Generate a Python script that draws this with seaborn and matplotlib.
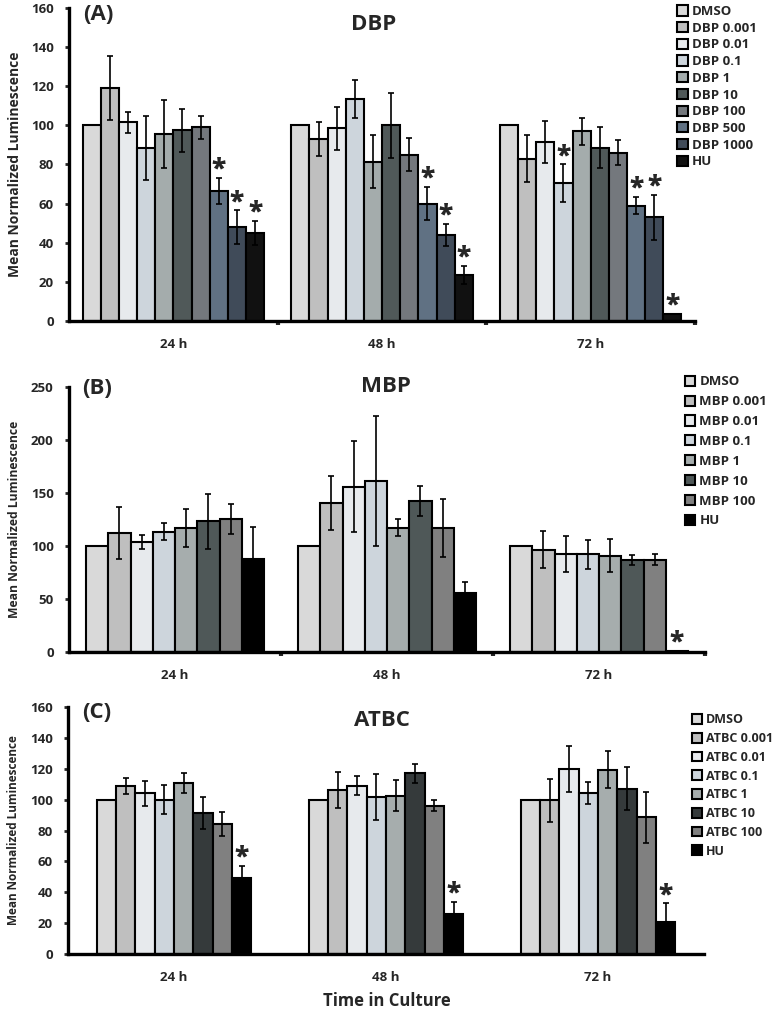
import pandas as pd
import matplotlib
matplotlib.use('Agg')
import matplotlib.pyplot as plt
import seaborn as sns

# ------------------- data -------------------
times = ['24 h', '48 h', '72 h']

# (A) DBP
dbp_labels = ['DMSO', 'DBP 0.001', 'DBP 0.01', 'DBP 0.1', 'DBP 1', 'DBP 10',
              'DBP 100', 'DBP 500', 'DBP 1000', 'HU']
dbp_colors = ['#d9d9d9', '#bfbfbf', '#e6eaee', '#cbd5de', '#a3adad', '#4e5a5b',
              '#72787f', '#5a7189', '#3c4b5d', '#111111']
dbp_24 = [100, 119, 101.5, 88.5, 95.5, 97.5, 99, 66.5, 48, 45]
dbp_48 = [100, 93, 98.5, 113.5, 81.5, 100, 85, 60, 44, 23.5]
dbp_72 = [100, 83, 91.5, 70.5, 97, 88.5, 86, 59, 53, 3.5]
dbp_err_24 = [0, 16.5, 5.5, 16.5, 17.5, 11, 6, 6.5, 8.5, 6]
dbp_err_48 = [0, 8.5, 11, 9.5, 13.5, 16.5, 8.5, 8.5, 5.5, 4.5]
dbp_err_72 = [0, 12, 10.5, 9.5, 7, 10.5, 6.5, 4.5, 11.5, 0]
dbp_sig_24 = ['DBP 500', 'DBP 1000', 'HU']
dbp_sig_48 = ['DBP 500', 'DBP 1000', 'HU']
dbp_sig_72 = ['DBP 0.1', 'DBP 500', 'DBP 1000', 'HU']

# (B) MBP
mbp_labels = ['DMSO', 'MBP 0.001', 'MBP 0.01', 'MBP 0.1', 'MBP 1', 'MBP 10',
              'MBP 100', 'HU']
mbp_colors = ['#d9d9d9', '#bfbfbf', '#e6eaee', '#cbd5de', '#a5aeae', '#4d5a5a',
              '#808080', '#000000']
mbp_24 = [100, 112.5, 103.5, 113.5, 117, 123.5, 125.5, 88]
mbp_48 = [100, 140.5, 156, 161.5, 117, 142.5, 117, 55.5]
mbp_72 = [100, 96.5, 92.5, 92, 91, 87, 87, 1]
mbp_err_24 = [0, 24.5, 6.5, 8, 18, 26, 14.5, 30]
mbp_err_48 = [0, 25.5, 43, 61.5, 8, 14.5, 27.5, 10.5]
mbp_err_72 = [0, 17.5, 17, 14, 16, 4.5, 5, 0]
mbp_sig_24 = []
mbp_sig_48 = []
mbp_sig_72 = ['HU']

# (C) ATBC
atbc_labels = ['DMSO', 'ATBC 0.001', 'ATBC 0.01', 'ATBC 0.1', 'ATBC 1',
               'ATBC 10', 'ATBC 100', 'HU']
atbc_colors = ['#d9d9d9', '#bfbfbf', '#e6eaee', '#cbd5de', '#a5aeae', '#343a3c',
               '#808080', '#000000']
atbc_24 = [100, 109, 104, 100, 111, 91.5, 84, 49.5]
atbc_48 = [100, 106, 109, 101.5, 102.5, 117, 96, 26]
atbc_72 = [100, 99.5, 120, 104.5, 119.5, 107, 88.5, 20.5]
atbc_err_24 = [0, 5.3, 8.3, 9.2, 6.5, 10.5, 7.8, 7.3]
atbc_err_48 = [0, 11.6, 6, 15, 10, 6.4, 3.6, 8]
atbc_err_72 = [0, 13.8, 15, 7.2, 12, 14, 16.7, 12.3]
atbc_sig_24 = ['HU']
atbc_sig_48 = ['HU']
atbc_sig_72 = ['HU']

# ------------------- style -------------------
sns.set_style('white')
plt.rcParams['font.family'] = ['Open Sans', 'DejaVu Sans']
plt.rcParams['font.weight'] = 'bold'

fig = plt.figure(figsize=(7.8, 10.09), dpi=100)


def draw_panel(rect, labels, colors, means, errs, sigs, width, ymax, ystep,
               title, title_xy, tag, tag_xy, leg_xy, leg_space, leg_size,
               ylab_size, dividers=True):
    ax = fig.add_axes(rect)
    df = pd.DataFrame({
        'time': [t for t in times for _ in labels],
        'treatment': labels * len(times),
        'value': [v for m in means for v in m],
    })
    sns.barplot(data=df, x='time', y='value', hue='treatment', order=times,
                hue_order=labels, palette=colors, width=width, gap=0,
                edgecolor='black', linewidth=1.5, errorbar=None, ax=ax,
                legend=False)
    bars = list(ax.containers)

    # error bars and significance marks
    for i, cont in enumerate(bars):
        for j, p in enumerate(cont.patches):
            x = p.get_x() + p.get_width() / 2
            m = means[j][i]
            e = errs[j][i]
            if e > 0:
                ax.errorbar(x, m, yerr=e, color='black', lw=1.2, capsize=2.3,
                            capthick=1.2, zorder=5)
            if labels[i] in sigs[j]:
                ax.annotate('*', (x, m + e), xytext=(0, 1),
                            textcoords='offset points', ha='center',
                            va='baseline', fontsize=19, fontweight='heavy')

    ax.set_xlim(-0.5, 2.5)
    ax.set_ylim(0, ymax)
    ax.set_yticks(range(0, ymax + 1, ystep))
    ax.set_xlabel('')
    ax.set_ylabel('Mean Normalized Luminescence', fontsize=ylab_size,
                  fontweight='bold')
    ax.yaxis.set_label_coords(-0.075, 0.5)
    for s in ['top', 'right']:
        ax.spines[s].set_visible(False)
    for s in ['left', 'bottom']:
        ax.spines[s].set_linewidth(2.4)
        ax.spines[s].set_color('black')
    ax.tick_params(axis='y', direction='out', length=3, width=2, pad=8,
                   labelsize=9.5, left=True)
    ax.tick_params(axis='x', which='major', length=0, pad=12, labelsize=9.5)
    if dividers:
        ax.set_xticks([0.5, 1.5, 2.5], minor=True)
        ax.tick_params(axis='x', which='minor', direction='out', length=3,
                       width=3, bottom=True)
    for lab in ax.get_xticklabels() + ax.get_yticklabels():
        lab.set_fontweight('bold')

    ax.text(title_xy[0], title_xy[1], title, transform=ax.transAxes,
            ha='center', va='center', fontsize=16, fontweight='bold')
    ax.text(tag_xy[0], tag_xy[1], tag, transform=ax.transAxes,
            ha='left', va='center', fontsize=16, fontweight='bold')

    ax.legend(bars, labels, loc='upper left', bbox_to_anchor=leg_xy,
              bbox_transform=fig.transFigure, frameon=False,
              handlelength=0.8, handleheight=0.8, handletextpad=0.3,
              labelspacing=leg_space, borderpad=0, borderaxespad=0,
              prop={'weight': 'bold', 'size': leg_size})
    return ax


draw_panel([0.0885, 0.6819, 0.8026, 0.3102], dbp_labels, dbp_colors,
           [dbp_24, dbp_48, dbp_72], [dbp_err_24, dbp_err_48, dbp_err_72],
           [dbp_sig_24, dbp_sig_48, dbp_sig_72], 0.87, 160, 20,
           'DBP', (0.487, 0.946), '(A)', (0.022, 0.978),
           (0.868, 0.995), 0.28, 9.5, 10)

draw_panel([0.0885, 0.3538, 0.8154, 0.2627], mbp_labels, mbp_colors,
           [mbp_24, mbp_48, mbp_72], [mbp_err_24, mbp_err_48, mbp_err_72],
           [mbp_sig_24, mbp_sig_48, mbp_sig_72], 0.84, 250, 50,
           'MBP', (0.498, 1.0), '(B)', (0.02, 0.996),
           (0.878, 0.628), 0.52, 9.5, 8.7)

draw_panel([0.0872, 0.0545, 0.8154, 0.2448], atbc_labels, atbc_colors,
           [atbc_24, atbc_48, atbc_72], [atbc_err_24, atbc_err_48, atbc_err_72],
           [atbc_sig_24, atbc_sig_48, atbc_sig_72], 0.73, 160, 20,
           'ATBC', (0.494, 0.947), '(C)', (0.022, 0.976),
           (0.887, 0.293), 0.46, 9, 8.5, dividers=False)

fig.text(387 / 780, 1 - 1001 / 1009, 'Time in Culture', ha='center',
         va='center', fontsize=12, fontweight='bold')

fig.savefig('out.png', dpi=100)
